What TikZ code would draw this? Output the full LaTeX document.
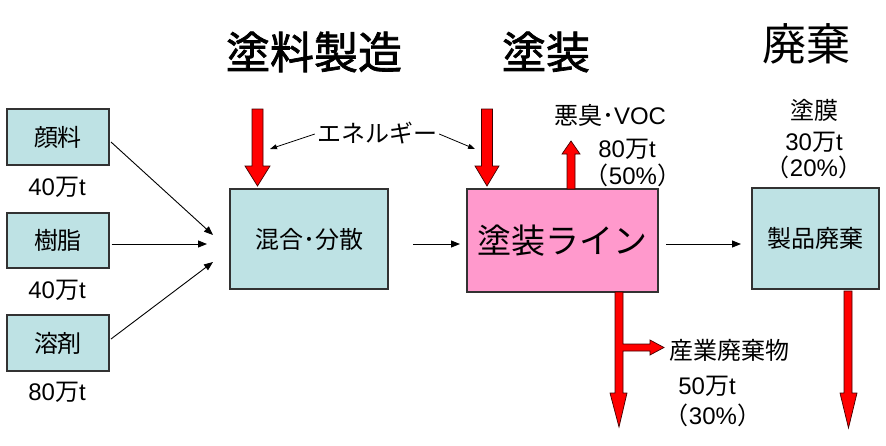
\documentclass[tikz,border=0pt]{standalone}
\usepackage{fontspec}
\setmainfont{Noto Sans CJK JP}
\newfontfamily\lat{Liberation Sans}
\newfontfamily\ttlbold[FakeBold=1.6]{Noto Sans CJK JP}
\usetikzlibrary{arrows.meta}
\definecolor{boxblue}{RGB}{190,226,228}
\definecolor{boxpink}{RGB}{255,153,204}
\definecolor{outl}{RGB}{50,50,50}
\tikzset{
  bluebox/.style={draw=outl,line width=1.1pt,fill=boxblue,inner sep=0pt,font=\fontsize{24}{26}\selectfont},
  pinkbox/.style={draw=outl,line width=1.1pt,fill=boxpink,inner sep=0pt,font=\fontsize{34}{36}\selectfont},
  lbl/.style={inner sep=0pt,font=\fontsize{24}{26}\selectfont},
  ttl/.style={inner sep=0pt,font=\fontsize{44}{46}\selectfont},
  flow/.style={-{Triangle[length=9pt,width=7pt]},line width=0.9pt},
  redarrow/.style={fill=red,draw=black!75!red,line width=0.7pt},
}
\begin{document}
\begin{tikzpicture}[x=1pt,y=-1pt]
\useasboundingbox (0,0) rectangle (886,445);
% titles
\node[ttl] (t1) at (314,52) {\ttlbold 塗料製造};
\node[ttl] (t2) at (546,52) {\ttlbold 塗装};
\node[ttl] (t3) at (806,44) {廃棄};
% input boxes
\node[bluebox,minimum width=102pt,minimum height=56pt] (pig) at (58,137) {顔料};
\node[bluebox,minimum width=102pt,minimum height=55pt] (res) at (58,240.5) {樹脂};
\node[bluebox,minimum width=102pt,minimum height=56pt] (sol) at (58,343) {溶剤};
\node[lbl] (q1) at (57,187) {{\lat 40}万{\lat t}};
\node[lbl] (q2) at (57,290) {{\lat 40}万{\lat t}};
\node[lbl] (q3) at (57,392) {{\lat 80}万{\lat t}};
% process boxes
\node[bluebox,minimum width=158pt,minimum height=100pt] (mix) at (309,239) {混合･分散};
\node[pinkbox,minimum width=191pt,minimum height=103pt] (line) at (562.5,240.5) {塗装ライン};
\node[bluebox,minimum width=127pt,minimum height=101pt] (waste) at (815.5,238.5) {製品廃棄};
% flow arrows
\coordinate (m1) at (213,235);
\coordinate (m2) at (207,244);
\coordinate (m3) at (213,262);
\draw[flow] (111,142) -- (m1);
\draw[flow] (res.east) ++(2,3.5) -- (m2);
\draw[flow] (111,339) -- (m3);
\coordinate (a1) at (413,244);
\coordinate (a2) at (460,244);
\draw[flow] (a1) -- (a2);
\coordinate (b1) at (666,244);
\coordinate (b2) at (741,244);
\draw[flow] (b1) -- (b2);
% energy
\node[lbl] (en) at (377,133) {エネルギー};
\coordinate (e1) at (270,149);
\coordinate (e2) at (475,149);
\draw[-{Triangle[length=7pt,width=5pt]},line width=0.8pt] (en.west) ++(-2,1) -- (e1);
\draw[-{Triangle[length=7pt,width=5pt]},line width=0.8pt] (en.east) ++(2,1) -- (e2);
% red arrows: energy in
\draw[redarrow] (252,109) -- (263,109) -- (263,166) -- (270,166) -- (257.5,186) -- (245,166) -- (252,166) -- cycle;
\draw[redarrow] (481.5,109) -- (492.5,109) -- (492.5,166) -- (499,166) -- (487,186) -- (475,166) -- (481.5,166) -- cycle;
% VOC up
\draw[redarrow] (567,189) -- (567,154) -- (562,154) -- (571,141) -- (580,154) -- (575,154) -- (575,189) -- cycle;
\node[lbl] (voc) at (610,115) {悪臭･{\lat VOC}};
\node[lbl] (voc2) at (627,149) {{\lat 80}万{\lat t}};
\node[lbl] (voc3) at (633,175) {（{\lat 50\%}）};
% industrial waste
\draw[redarrow] (615,292) -- (615,393) -- (610,393) -- (619,427) -- (627,393) -- (623,393) -- (623,351) -- (650,351) -- (650,355) -- (664,347.5) -- (650,340) -- (650,344) -- (623,344) -- (623,292) -- cycle;
\node[lbl,anchor=west] (iw) at (669,350) {産業廃棄物};
\node[lbl] (iw2) at (707,386) {{\lat 50}万{\lat t}};
\node[lbl] (iw3) at (713,415) {（{\lat 30\%}）};
% film waste
\draw[redarrow] (844,291) -- (852,291) -- (852,393) -- (857,393) -- (848.5,428) -- (840,393) -- (844,393) -- cycle;
\node[lbl] (f1) at (814,110) {塗膜};
\node[lbl] (f2) at (814,142) {{\lat 30}万{\lat t}};
\node[lbl] (f3) at (814,167) {（{\lat 20\%}）};
\end{tikzpicture}
\end{document}
